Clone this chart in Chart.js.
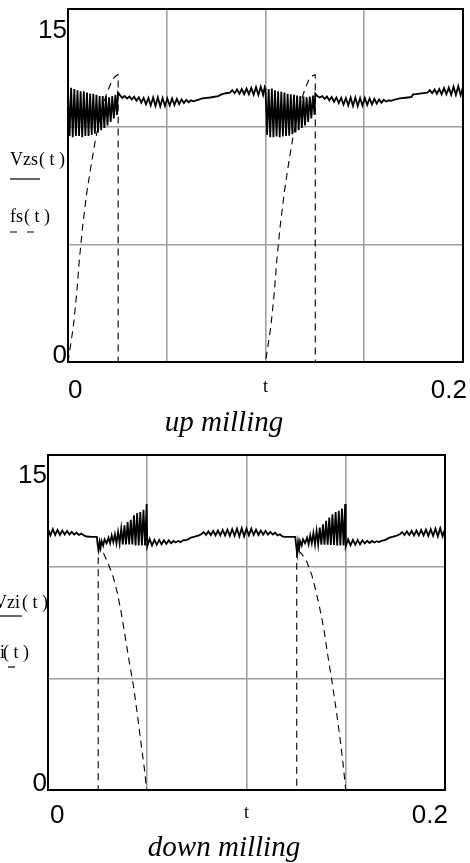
<!DOCTYPE html>
<html>
<head>
<meta charset="utf-8">
<script src="https://cdn.jsdelivr.net/npm/chart.js@4"></script>
<style>
  html, body { margin: 0; padding: 0; background: #fff; }
  body { width: 470px; height: 863px; position: relative; overflow: hidden; }
  canvas { position: absolute; left: 0; }
  #upChart { top: 0; }
  #downChart { top: 440px; }
</style>
</head>
<body>
<canvas id="upChart" width="470" height="440"></canvas>
<canvas id="downChart" width="470" height="423"></canvas>
<script>
// axis ticks and labels
const xTickValues = [0, 0.2];
const xTickLabels = ['0', '0.2'];
const yTickValues = [15, 0];
const yTickLabels = ['15', '0'];

// up milling: Vzs(t) solid, fs(t) dashed  [t, value]
const upVzs = [
  [0,11.6],[.0008,9.6],[.0016,11.65],[.0024,9.55],[.0032,11.6],[.004,9.6],[.0048,11.55],[.0056,9.6],[.0064,11.5],[.0072,9.55],[.008,11.5],[.0088,9.6],[.0096,11.45],[.0104,9.6],[.0112,11.4],[.012,9.65],[.0128,11.4],[.0136,9.7],[.0144,11.35],[.0152,9.75],[.016,11.3],[.0168,9.85],[.0176,11.3],[.0184,9.95],[.0192,11.3],[.02,10.05],[.0208,11.25],[.0216,10.2],[.0224,11.3],[.0232,10.35],[.024,11.35],[.0248,10.5],[.0253,11.45],
  [.0262,11.35],[.0275,11.22],[.0287,11.3],[.0299,11.2],[.0311,11.28],[.0323,11.16],[.0335,11.27],[.0347,11.1],[.0359,11.25],[.0371,11.02],[.0383,11.22],[.0395,10.95],[.0407,11.22],[.0419,10.9],[.0431,11.24],[.0443,10.88],[.0455,11.24],[.0467,10.86],[.0479,11.22],[.0491,10.88],[.0503,11.2],[.0515,10.9],[.0527,11.2],[.0539,10.92],[.0551,11.18],[.0563,10.96],[.0575,11.16],[.0587,11.0],[.0599,11.14],[.0611,11.04],[.0623,11.12],[.0635,11.08],[.065,11.12],[.068,11.2],[.072,11.24],[.076,11.3],[.078,11.38],[.08,11.42],[.082,11.45],[.0832,11.55],[.0844,11.42],[.0856,11.58],[.0868,11.4],[.088,11.6],[.0892,11.38],[.0904,11.62],[.0916,11.38],[.0928,11.65],[.094,11.36],[.0952,11.68],[.0964,11.35],[.0976,11.7],[.0988,11.35],[.0996,11.68],
  [.1,11.6],[.1008,9.65],[.1016,11.6],[.1024,9.55],[.1032,11.62],[.104,9.55],[.1048,11.55],[.1056,9.58],[.1064,11.5],[.1072,9.55],[.108,11.48],[.1088,9.58],[.1096,11.45],[.1104,9.6],[.1112,11.4],[.112,9.62],[.1128,11.38],[.1136,9.68],[.1144,11.35],[.1152,9.75],[.116,11.32],[.1168,9.85],[.1176,11.3],[.1184,9.95],[.1192,11.28],[.12,10.05],[.1208,11.25],[.1216,10.2],[.1224,11.28],[.1232,10.35],[.124,11.32],[.1248,10.5],[.1252,11.4],
  [.1262,11.3],[.1275,11.24],[.1287,11.3],[.1299,11.18],[.1311,11.28],[.1323,11.12],[.1335,11.26],[.1347,11.06],[.1359,11.24],[.1371,11.0],[.1383,11.22],[.1395,10.94],[.1407,11.22],[.1419,10.9],[.1431,11.24],[.1443,10.88],[.1455,11.24],[.1467,10.88],[.1479,11.22],[.1491,10.9],[.1503,11.22],[.1515,10.92],[.1527,11.2],[.1539,10.95],[.1551,11.18],[.1563,10.98],[.1575,11.16],[.1587,11.02],[.1599,11.14],[.1611,11.06],[.1623,11.12],[.1635,11.1],[.165,11.14],[.168,11.2],[.172,11.24],[.174,11.26],[.1745,11.36],[.178,11.4],[.182,11.45],[.1832,11.55],[.1844,11.42],[.1856,11.58],[.1868,11.4],[.188,11.6],[.1892,11.38],[.1904,11.64],[.1916,11.38],[.1928,11.66],[.194,11.36],[.1952,11.7],[.1964,11.35],[.1976,11.72],[.1988,11.34],[.2,11.7]
];
const upFs = [
  [0,0],[.0027,1.5],[.0044,2.9],[.0057,4.3],[.0074,5.75],[.0095,7.2],[.012,8.5],[.014,9.5],[.016,10.3],[.018,11.0],[.02,11.5],[.022,11.9],[.0235,12.1],[.025,12.2],[.0254,12.2],[.0254,0],
  [.1,0],[.1027,1.5],[.1044,2.9],[.1057,4.3],[.1074,5.75],[.1095,7.2],[.112,8.6],[.114,9.6],[.116,10.4],[.118,11.1],[.12,11.6],[.122,12.0],[.1235,12.15],[.125,12.2],[.1252,12.2],[.1252,0],[.2,0]
];

// down milling: Vzi(t) solid, fi(t) dashed  [t, value]
const downVzi = [
  [0,11.7],[.0012,11.4],[.0024,11.68],[.0036,11.42],[.0048,11.65],[.006,11.42],[.0072,11.62],[.0084,11.44],[.0096,11.6],[.0108,11.44],[.012,11.56],[.0132,11.44],[.0144,11.52],[.0156,11.42],[.0168,11.48],[.018,11.4],[.0195,11.35],[.022,11.33],[.0246,11.33],
  [.025,11.0],[.0255,10.75],[.026,11.1],[.0265,10.85],[.027,11.15],[.0278,10.95],[.0285,11.22],[.0295,11.05],[.0305,11.3],
  [.0313,11.05],[.0321,11.4],[.0329,11.1],[.0337,11.45],[.0345,11.05],[.0353,11.55],[.0361,11.05],[.0369,11.7],[.0377,11.0],[.0385,11.85],[.0393,11.0],[.0401,12.0],[.0409,11.0],[.0417,12.1],[.0425,11.0],[.0433,12.3],[.0441,10.95],[.0449,12.4],[.0457,10.95],[.0465,12.45],[.0473,10.95],[.0481,12.55],[.0489,10.95],[.0497,12.8],[.05,10.9],
  [.0512,11.25],[.0524,10.95],[.0536,11.2],[.0548,10.98],[.056,11.2],[.0572,11.0],[.0584,11.18],[.0596,11.02],[.0608,11.18],[.062,11.05],[.0632,11.15],[.0644,11.08],[.0656,11.15],[.0668,11.1],[.068,11.18],[.07,11.2],[.072,11.3],[.074,11.35],[.076,11.4],
  [.0772,11.45],[.0784,11.55],[.0796,11.42],[.0808,11.58],[.082,11.42],[.0832,11.6],[.0844,11.4],[.0856,11.62],[.0868,11.4],[.088,11.64],[.0892,11.4],[.0904,11.66],[.0916,11.38],[.0928,11.68],[.094,11.38],[.0952,11.7],[.0964,11.36],[.0976,11.72],[.0988,11.36],
  [.1,11.7],[.1012,11.4],[.1024,11.7],[.1036,11.42],[.1048,11.66],[.106,11.42],[.1072,11.62],[.1084,11.44],[.1096,11.6],[.1108,11.44],[.112,11.56],[.1132,11.44],[.1144,11.52],[.1156,11.4],[.1168,11.45],[.118,11.36],[.1195,11.34],[.122,11.33],[.1246,11.33],
  [.125,10.95],[.1255,10.6],[.126,11.1],[.1265,10.8],[.127,11.15],[.1278,10.95],[.1285,11.22],[.1295,11.05],[.1305,11.3],
  [.1313,11.0],[.1321,11.4],[.1329,11.05],[.1337,11.5],[.1345,11.0],[.1353,11.6],[.1361,11.0],[.1369,11.75],[.1377,10.98],[.1385,11.9],[.1393,10.98],[.1401,12.05],[.1409,10.98],[.1417,12.2],[.1425,10.97],[.1433,12.35],[.1441,10.97],[.1449,12.45],[.1457,10.95],[.1465,12.5],[.1473,10.95],[.1481,12.6],[.1489,10.95],[.1497,12.8],[.15,10.9],
  [.1512,11.22],[.1524,10.95],[.1536,11.2],[.1548,10.98],[.156,11.2],[.1572,11.0],[.1584,11.18],[.1596,11.04],[.1608,11.16],[.162,11.06],[.1632,11.15],[.1644,11.08],[.1656,11.14],[.1668,11.1],[.168,11.16],[.17,11.2],[.172,11.3],[.174,11.35],[.176,11.4],
  [.1772,11.45],[.1784,11.55],[.1796,11.42],[.1808,11.58],[.182,11.42],[.1832,11.6],[.1844,11.4],[.1856,11.62],[.1868,11.4],[.188,11.64],[.1892,11.4],[.1904,11.66],[.1916,11.38],[.1928,11.68],[.194,11.38],[.1952,11.7],[.1964,11.36],[.1976,11.72],[.1988,11.36],[.2,11.7]
];
const downFi = [
  [0,0],[.0253,0],[.0253,10.85],[.028,10.6],[.0305,10.1],[.033,9.5],[.035,8.8],[.037,7.9],[.039,6.8],[.041,5.7],[.043,4.7],[.045,3.4],[.047,2.0],[.0485,1.0],[.0497,0],
  [.1253,0],[.1253,10.8],[.128,10.55],[.1305,10.2],[.133,9.6],[.135,8.9],[.137,8.1],[.139,7.2],[.141,6.0],[.143,4.9],[.145,3.7],[.147,2.4],[.1485,1.3],[.15,0],[.2,0]
];

const SANS = '"Liberation Sans", Arial, sans-serif';
const SERIF = '"Liberation Serif", "Times New Roman", serif';

// frame, tick labels, trace names and caption, Mathcad style
const mathcadText = {
  id: 'mathcadText',
  afterDraw(chart, args, o) {
    const ctx = chart.ctx;
    const a = chart.chartArea;
    const xs = chart.scales.x, ys = chart.scales.y;
    ctx.save();
    ctx.strokeStyle = '#000';
    ctx.lineWidth = 2;
    ctx.strokeRect(a.left, a.top, a.right - a.left, a.bottom - a.top);

    ctx.fillStyle = '#000';
    ctx.font = '26px ' + SANS;
    ctx.textAlign = 'right';
    ctx.textBaseline = 'alphabetic';
    yTickValues.forEach((v, i) => {
      ctx.fillText(yTickLabels[i], a.left - 1, ys.getPixelForValue(v) + o.yLabelDy[i]);
    });
    xTickValues.forEach((v, i) => {
      ctx.textAlign = i === 0 ? 'left' : 'right';
      const dx = i === 0 ? o.xLeftDx : o.xRightDx;
      ctx.fillText(xTickLabels[i], xs.getPixelForValue(v) + dx, a.bottom + o.xLabelDy);
    });

    ctx.font = '18px ' + SERIF;
    ctx.textAlign = 'center';
    ctx.fillText('t', (a.left + a.right) / 2, a.bottom + o.tDy);

    ctx.font = 'italic 29px ' + SERIF;
    ctx.fillText(o.caption, o.captionX, o.captionY);

    ctx.font = '18px ' + SERIF;
    ctx.textAlign = 'left';
    o.names.forEach((n, i) => {
      ctx.fillText(n, o.nameX[i], o.baseY[i]);
      ctx.fillText('( t )', o.argX[i], o.baseY[i]);
      ctx.beginPath();
      ctx.lineWidth = 1.2;
      ctx.setLineDash(o.dashed[i] ? [7, 10] : []);
      ctx.moveTo(o.lineX[i][0], o.lineY[i]);
      ctx.lineTo(o.lineX[i][1], o.lineY[i]);
      ctx.stroke();
    });
    ctx.restore();
  }
};

function makeChart(id, solid, dashed, pad, labels) {
  return new Chart(document.getElementById(id), {
    type: 'scatter',
    data: {
      datasets: [{
        data: solid.map(p => ({x: p[0], y: p[1]})),
        showLine: true,
        borderColor: '#000',
        borderWidth: 1.8,
        pointRadius: 0,
        tension: 0
      }, {
        data: dashed.map(p => ({x: p[0], y: p[1]})),
        showLine: true,
        borderColor: '#000',
        borderWidth: 1.1,
        borderDash: [7, 5],
        pointRadius: 0,
        tension: 0
      }]
    },
    options: {
      responsive: false,
      animation: false,
      devicePixelRatio: 1,
      layout: {padding: pad},
      scales: {
        x: {
          type: 'linear', min: 0, max: 0.2,
          ticks: {display: false, stepSize: 0.05},
          grid: {color: '#a0a0a0', lineWidth: 1.6, drawTicks: false},
          border: {display: false}
        },
        y: {
          min: 0, max: 15,
          ticks: {display: false, stepSize: 5},
          grid: {color: '#a0a0a0', lineWidth: 1.6, drawTicks: false},
          border: {display: false}
        }
      },
      plugins: {
        legend: {display: false},
        tooltip: {enabled: false},
        mathcadText: labels
      }
    },
    plugins: [mathcadText]
  });
}

window.addEventListener('load', function () {
  makeChart('upChart', upVzs, upFs, {left: 68, top: 9, right: 7, bottom: 78}, {
    names: ['Vzs', 'fs'], nameX: [10, 10], argX: [39, 24], baseY: [165, 222],
    lineY: [179, 232], lineX: [[10, 40], [10, 34]], dashed: [false, true],
    yLabelDy: [29, 1], xLabelDy: 36, xLeftDx: 0, xRightDx: 4, tDy: 30,
    caption: 'up milling', captionX: 224, captionY: 431
  });
  makeChart('downChart', downVzi, downFi, {left: 48, top: 15, right: 25, bottom: 73}, {
    names: ['Vzi', 'fi'], nameX: [-6, -6], argX: [22, 3], baseY: [168, 218],
    lineY: [176, 227], lineX: [[0, 22], [8, 15]], dashed: [false, true],
    yLabelDy: [28, 1], xLabelDy: 33, xLeftDx: 2, xRightDx: 3, tDy: 28,
    caption: 'down milling', captionX: 224, captionY: 416
  });
});
</script>
</body>
</html>
